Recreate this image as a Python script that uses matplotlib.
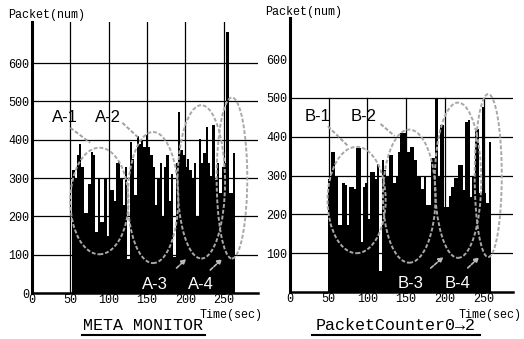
import numpy as np
import matplotlib
matplotlib.use("Agg")
import matplotlib.pyplot as plt
from matplotlib.patches import Ellipse
from matplotlib.lines import Line2D

# ---- data ----
# META MONITOR: packets per 3 s bin
time_a = list(range(54, 267, 3))
packets_a = [320, 300, 360, 390, 330, 210, 210, 285, 368, 360,
             160, 300, 185, 185, 300, 150, 270, 270, 240, 340,
             345, 300, 230, 330, 90, 395, 350, 256, 410, 390,
             400, 380, 412, 380, 360, 330, 230, 300, 340, 200,
             330, 360, 240, 310, 95, 340, 473, 373, 360, 330,
             350, 320, 300, 340, 200, 402, 340, 365, 433, 340,
             305, 439, 295, 340, 260, 330, 340, 681, 261, 261,
             365]

# PacketCounter0->2
time_b = list(range(51, 260, 3))
packets_b = [290, 361, 361, 300, 172, 172, 280, 276, 172, 270,
             270, 265, 371, 371, 130, 270, 280, 187, 310, 310,
             290, 330, 55, 340, 315, 300, 353, 353, 280, 300,
             360, 410, 410, 410, 360, 374, 374, 340, 300, 300,
             265, 300, 225, 225, 345, 345, 500, 300, 430, 430,
             220, 220, 248, 270, 294, 294, 327, 327, 263, 438,
             443, 245, 300, 420, 420, 255, 477, 255, 230, 387]

# ellipses (centre time, centre packets, width sec, height packets)
ell_a = [(88, 240, 76, 278), (158, 249, 66, 342), (221, 290, 62, 400), (261, 300, 40, 420)]
ell_b = [(86, 237, 75, 274), (154, 247, 68, 343), (217, 288, 60, 400), (256, 300, 35, 420)]

labels_a = ["A-1", "A-2", "A-3", "A-4"]
labels_b = ["B-1", "B-2", "B-3", "B-4"]

mono = ["Liberation Mono", "DejaVu Sans Mono"]

fig = plt.figure(figsize=(5.24, 3.39), dpi=100)
fig.patch.set_facecolor("white")

ax1 = fig.add_axes([32/524, 1-293/339, 226/524, 271/339])
ax2 = fig.add_axes([290/524, 1-292/339, 223/524, 274/339])


def draw_panel(ax, t, p, ells, labs, xmax, ymax, hgrid, vtop, lab_pos, lead, arr, lab_low):
    ax.set_xlim(0, xmax)
    ax.set_ylim(0, ymax)
    for y in hgrid:
        ax.axhline(y, color="black", lw=0.9, zorder=1)
    for x in [50, 100, 150, 200, 250]:
        ax.plot([x, x], [0, vtop], color="black", lw=0.9, zorder=1)
    ax.bar(t, p, width=3, color="black", edgecolor="none", zorder=2)
    for (cx, cy, w, h) in ells:
        ax.add_patch(Ellipse((cx, cy), w, h, fill=False, edgecolor="#a8a8a8",
                             lw=1.4, ls=(0, (2, 1)), zorder=4))
    # upper labels with leader lines
    for i in range(2):
        ax.text(lab_pos[i][0], lab_pos[i][1], labs[i], fontsize=12, family="Liberation Sans",
                ha="center", va="center", zorder=5)
        (x0, y0), (x1, y1) = lead[i]
        ax.plot([x0, x1], [y0, y1], color="#a0a0a0", lw=1.4, ls=(0, (2, 1)), zorder=4)
    # lower labels with arrows
    for i in range(2):
        ax.text(lab_low[i][0], lab_low[i][1], labs[i + 2], fontsize=12, family="Liberation Sans",
                color="white", ha="center", va="center", zorder=5)
        (x0, y0), (x1, y1) = arr[i]
        ax.annotate("", xy=(x1, y1), xytext=(x0, y0),
                    arrowprops=dict(arrowstyle="-|>", color="#bbbbbb", lw=1.2,
                                    mutation_scale=7, ls=(0, (2, 1))), zorder=5)
    for s in ["top", "right"]:
        ax.spines[s].set_visible(False)
    ax.spines["left"].set_linewidth(2.2)
    ax.spines["bottom"].set_linewidth(1.8)
    ax.set_xticks([0, 50, 100, 150, 200, 250])
    ax.tick_params(length=0, pad=2)
    ax.tick_params(axis="x", pad=1)


draw_panel(ax1, time_a, packets_a, ell_a, labels_a, 295, 707,
           [100, 200, 300, 400, 500, 600], 707,
           [(43, 457), (99, 457)],
           [((50, 431), (76, 392)), ((118, 444), (139, 405))],
           [((186, 60), (204, 94)), ((230, 55), (251, 94))],
           [(160, 21), (221, 21)])
ax1.set_yticks([0, 100, 200, 300, 400, 500, 600])

draw_panel(ax2, time_b, packets_b, ell_b, labels_b, 288, 706,
           [100, 200, 300, 400, 500], 500,
           [(36, 451), (95, 451)],
           [((49, 427), (75, 376)), ((117, 433), (135, 402))],
           [((179, 57), (201, 95)), ((227, 57), (247, 95))],
           [(156, 23), (217, 23)])
ax2.set_yticks([100, 200, 300, 400, 500, 600])

for lb in ax1.get_xticklabels() + ax1.get_yticklabels() + ax2.get_xticklabels() + ax2.get_yticklabels():
    lb.set_family(mono)
    lb.set_fontsize(8.5)

ax1.text(1.02, -0.082, "Time(sec)", transform=ax1.transAxes, ha="right", va="center",
         family=mono, fontsize=8.5)
ax2.text(1.04, -0.085, "Time(sec)", transform=ax2.transAxes, ha="right", va="center",
         family=mono, fontsize=8.5)

fig.text(8/524, 1-15/339, "Packet(num)", ha="left", va="center", family=mono, fontsize=8.5)
fig.text(265/524, 1-12/339, "Packet(num)", ha="left", va="center", family=mono, fontsize=8.5)

# panel titles, underlined
fig.text(143/524, 1-326/339, "META MONITOR", ha="center", va="center", family=mono, fontsize=12)
fig.text(396/524, 1-326/339, "PacketCounter0\u21922", ha="center", va="center", family=mono, fontsize=12)
fig.add_artist(Line2D([82/524, 205/524], [1-335/339, 1-335/339], color="black", lw=1.5))
fig.add_artist(Line2D([312/524, 480/524], [1-335/339, 1-335/339], color="black", lw=1.5))

plt.savefig("out.png", dpi=100, facecolor="white")
